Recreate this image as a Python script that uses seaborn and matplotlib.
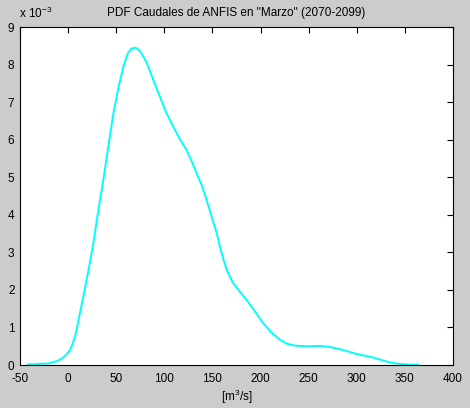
import matplotlib
matplotlib.use("Agg")
import matplotlib.pyplot as plt
import seaborn as sns
import pandas as pd

# Data (x in m^3/s, y = PDF value in units of 1e-3)
caudal = [-42, -35, -30, -20, -12, -8, -5, -2, 2, 4.5, 7, 9.5, 12, 15.8, 21, 26.2,
          31, 36.6, 42, 47, 52, 57.4, 62, 66, 70.2, 74, 78, 81.7, 88, 95.5, 102,
          109.4, 116, 123.2, 128, 133.6, 139, 144, 149, 154.4, 159, 164.8, 171,
          178.6, 185.6, 194, 202.9, 211, 220.2, 228, 237.6, 250, 261.8, 272, 282.6,
          291, 300, 308, 317.2, 326, 334.5, 341, 348.3, 356, 364]
pdf = [0.02, 0.02, 0.03, 0.04, 0.10, 0.15, 0.20, 0.27, 0.40, 0.55, 0.75, 1.02,
       1.35, 1.82, 2.50, 3.24, 4.05, 4.93, 5.85, 6.70, 7.35, 7.94, 8.30, 8.43,
       8.45, 8.38, 8.22, 8.05, 7.62, 7.14, 6.72, 6.34, 6.02, 5.72, 5.45, 5.10,
       4.78, 4.39, 3.96, 3.51, 3.02, 2.53, 2.20, 1.95, 1.73, 1.43, 1.11, 0.87,
       0.67, 0.56, 0.51, 0.50, 0.51, 0.48, 0.42, 0.36, 0.29, 0.25, 0.20, 0.13,
       0.07, 0.04, 0.02, 0.01, 0.01]

xticks = [-50, 0, 50, 100, 150, 200, 250, 300, 350, 400]
yticks = list(range(10))

df = pd.DataFrame({"x": caudal, "y": pdf})

sns.set_style("white")
plt.rcParams["font.family"] = ["Liberation Sans", "DejaVu Sans"]
plt.rcParams["mathtext.fontset"] = "custom"
plt.rcParams["mathtext.rm"] = "Liberation Sans"
plt.rcParams["mathtext.it"] = "Liberation Sans"
plt.rcParams["text.color"] = "black"
plt.rcParams["axes.labelcolor"] = "black"

fig = plt.figure(figsize=(4.7, 4.08), dpi=100, facecolor="#cccccc")
ax = fig.add_axes([20 / 470, (408 - 365) / 408, 433 / 470, 338 / 408])
ax.set_facecolor("white")

sns.lineplot(data=df, x="x", y="y", ax=ax, color="#00ffff", linewidth=1.4,
             estimator=None, sort=False)

ax.set_xlim(-50, 400)
ax.set_ylim(0, 9)
ax.set_xticks(xticks)
ax.set_yticks(yticks)
ax.set_xticklabels([str(t) for t in xticks])
ax.set_yticklabels([str(t) for t in yticks])

ax.tick_params(direction="in", length=4, width=0.8, top=True, right=True,
               labelsize=8.5, colors="black")
ax.tick_params(axis="x", pad=6)
ax.tick_params(axis="y", pad=4)
for s in ax.spines.values():
    s.set_color("black")
    s.set_linewidth(0.8)

fig.text(19 / 470, 1 - 18 / 408, r"x 10$^{-3}$", fontsize=8.5, va="baseline",
         ha="left", color="black")

ax.set_title('PDF Caudales de ANFIS en "Marzo" (2070-2099)', fontsize=8.5, pad=8,
             color="black")
ax.set_xlabel("[m$^3$/s]", fontsize=8.5, labelpad=2, color="black")
ax.set_ylabel("")

fig.savefig("out.png", dpi=100, facecolor=fig.get_facecolor())
